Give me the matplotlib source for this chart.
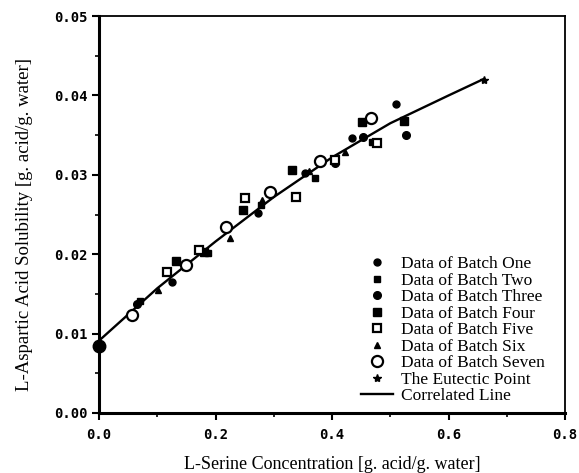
import matplotlib
matplotlib.use("Agg")
import matplotlib.pyplot as plt
from matplotlib.ticker import MultipleLocator

# readings (x = L-serine, y = L-aspartic acid), g acid / g water
b1_x = [0.125, 0.273, 0.354, 0.435, 0.510]
b1_y = [0.0165, 0.0252, 0.0302, 0.0346, 0.0389]
b2_x = [0.070, 0.187, 0.278, 0.371, 0.468]
b2_y = [0.0141, 0.0202, 0.0262, 0.0296, 0.0341]
b3_x = [0.065, 0.405, 0.453, 0.527]
b3_y = [0.0137, 0.0315, 0.0348, 0.0350]
b4_x = [0.133, 0.180, 0.247, 0.331, 0.451, 0.524]
b4_y = [0.0192, 0.0203, 0.0256, 0.0306, 0.0367, 0.0368]
b5_x = [0.117, 0.172, 0.251, 0.338, 0.405, 0.477]
b5_y = [0.0178, 0.0205, 0.0271, 0.0272, 0.0319, 0.0340]
b6_x = [0.101, 0.148, 0.225, 0.280, 0.360, 0.422]
b6_y = [0.0155, 0.0184, 0.0220, 0.0268, 0.0305, 0.0329]
b7_x = [0.056, 0.150, 0.218, 0.294, 0.379, 0.466]
b7_y = [0.0123, 0.0187, 0.0234, 0.0278, 0.0318, 0.0371]
pure_x = [0.0]
pure_y = [0.0084]
eut_x = [0.661]
eut_y = [0.0419]
line_x = [0.0, 0.1, 0.2, 0.3, 0.4, 0.5, 0.6, 0.661]
line_y = [0.0091, 0.0157, 0.0216, 0.0272, 0.0322, 0.0365, 0.0400, 0.0421]

serif = "Liberation Serif"
tickfont = {"family": "DejaVu Sans Mono", "weight": "bold", "size": 10}

fig = plt.figure(figsize=(5.79, 4.73), dpi=100)
ax = fig.add_axes([0.171, 0.127, 0.805, 0.839])

ax.plot(line_x, line_y, color="black", lw=1.7, label="Correlated Line", zorder=2)
ax.plot(b1_x, b1_y, "o", color="black", ms=5, label="Data of Batch One")
ax.plot(b2_x, b2_y, "s", color="black", ms=5, label="Data of Batch Two")
ax.plot(b3_x, b3_y, "o", color="black", ms=5.5, label="Data of Batch Three")
ax.plot(b4_x, b4_y, "s", color="black", ms=6, label="Data of Batch Four")
ax.plot(b5_x, b5_y, "s", mfc="white", mec="black", mew=1.6, ms=5.5,
        label="Data of Batch Five")
ax.plot(b6_x, b6_y, "^", color="black", ms=5, label="Data of Batch Six")
ax.plot(b7_x, b7_y, "o", mfc="white", mec="black", mew=1.6, ms=8,
        label="Data of Batch Seven")
ax.plot(eut_x, eut_y, "*", color="black", ms=6, label="The Eutectic Point")
ax.plot(pure_x, pure_y, "o", color="black", ms=9, clip_on=False)

ax.set_xlim(0, 0.8)
ax.set_ylim(0, 0.05)
ax.xaxis.set_major_locator(MultipleLocator(0.2))
ax.xaxis.set_minor_locator(MultipleLocator(0.1))
ax.yaxis.set_major_locator(MultipleLocator(0.01))
ax.yaxis.set_minor_locator(MultipleLocator(0.005))
ax.set_xticklabels([f"{v:.1f}" for v in ax.get_xticks()], fontdict=tickfont)
ax.set_yticklabels([f"{v:.2f}" for v in ax.get_yticks()], fontdict=tickfont)
ax.tick_params(which="major", direction="out", length=5, width=1.5)
ax.tick_params(which="minor", direction="out", length=3, width=1.2)
ax.tick_params(axis="x", pad=6)

for side in ["left", "bottom"]:
    ax.spines[side].set_linewidth(2.2)
for side in ["top", "right"]:
    ax.spines[side].set_linewidth(1.3)

ax.set_xlabel("L-Serine Concentration [g. acid/g. water]", fontfamily=serif,
              fontsize=13, labelpad=10)
ax.set_ylabel("L-Aspartic Acid Solubility [g. acid/g. water]", fontfamily=serif,
              fontsize=13.5)
ax.yaxis.set_label_coords(-0.142, 0.474)

handles, labels = ax.get_legend_handles_labels()
order = [1, 2, 3, 4, 5, 6, 7, 8, 0]
ax.legend([handles[i] for i in order], [labels[i] for i in order],
          loc="lower right", frameon=False, prop={"family": serif, "size": 12.5},
          handlelength=1.8, handletextpad=0.5, labelspacing=0.02,
          borderaxespad=0.0, borderpad=0.0, bbox_to_anchor=(0.957, 0.022))

fig.savefig("out.png", dpi=100)
